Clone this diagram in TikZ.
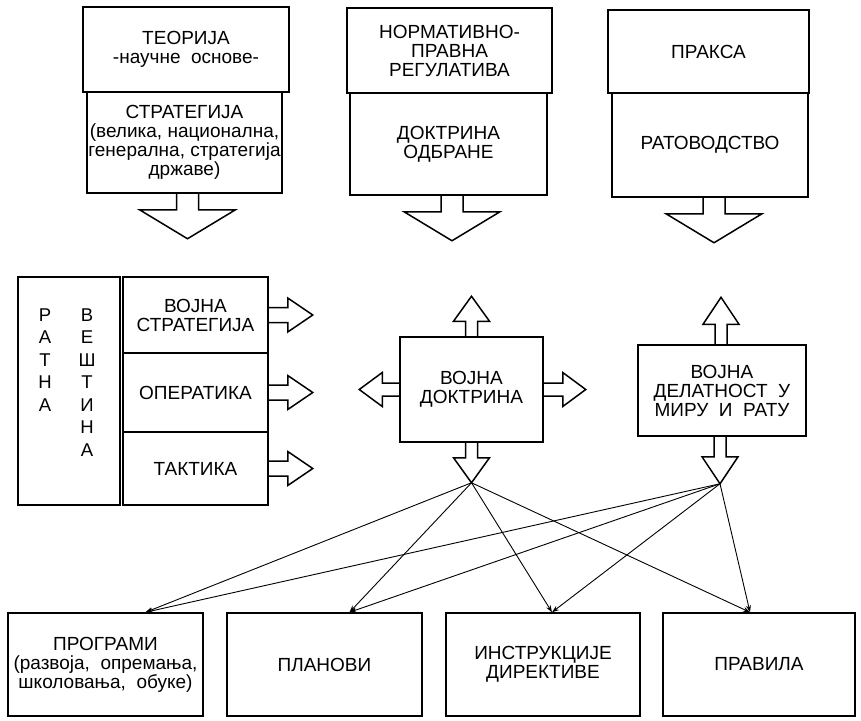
\documentclass[tikz,border=0pt]{standalone}
\usepackage{fontspec}
\setmainfont{Liberation Sans}
\usetikzlibrary{calc,arrows.meta}
\tikzset{
  every node/.style={inner sep=1pt, align=center, font=\fontsize{19}{19}\selectfont},
  box/.style={draw, line width=1.5pt},
  column/.style={font=\fontsize{18.5}{22.5}\selectfont},
  arrowline/.style={line width=1.5pt, line join=miter},
  link/.style={line width=0.9pt, -{Stealth[length=7pt,width=5pt]}},
  pics/blockarrow/.style args={#1/#2/#3/#4}{code={
    \draw[arrowline] (-#1,0) -- (-#1,#3) -- (-#2,#3) -- (0,#4) -- (#2,#3) -- (#1,#3) -- (#1,0);
    \coordinate (-tip) at (0,#4);
  }}
}

\begin{document}
\begin{tikzpicture}[x=1pt, y=-1pt]
  \useasboundingbox (0,0) rectangle (861,720);

  % top row
  \node[box, minimum width=206pt, minimum height=85pt]  (teorija)   at (186.0, 49.5) {ТЕОРИЈА\\-научне~~основе-};
  \node[box, minimum width=195pt, minimum height=101pt] (strategija) at (184.5,142.5) {СТРАТЕГИЈА\\(велика, национална,\\генерална, стратегија\\државе)};
  \node[box, minimum width=205pt, minimum height=85pt]  (normativa) at (449.5, 50.5) {НОРМАТИВНО-\\ПРАВНА\\РЕГУЛАТИВА};
  \node[box, minimum width=197pt, minimum height=102pt] (odbrana)   at (448.5,144.0) {ДОКТРИНА\\ОДБРАНЕ};
  \node[box, minimum width=201pt, minimum height=83pt]  (praksa)    at (708.5, 51.5) {ПРАКСА};
  \node[box, minimum width=196pt, minimum height=104pt] (ratovodstvo) at (710.0,145.0) {РАТОВОДСТВО};

  \pic at ($(strategija.south)+(3,0)$)  {blockarrow=11/48/16/45};
  \pic at ($(odbrana.south)+(3.5,0)$)   {blockarrow=11/48/16/45};
  \pic at ($(ratovodstvo.south)+(4,0)$) {blockarrow=11/48/16/45};

  % ratna vestina
  \node[box, minimum width=102pt, minimum height=228pt] (vestina) at (69,391) {};
  \node[column] (ratnatxt)   at (45,360.0) {Р\\А\\Т\\Н\\А};
  \node[column] (vestinatxt) at (87,382.5) {В\\Е\\Ш\\Т\\И\\Н\\А};
  \node[box, minimum width=145pt, minimum height=76pt] (vstrat) at (195.5,315.0) {ВОЈНА\\СТРАТЕГИЈА};
  \node[box, minimum width=145pt, minimum height=79pt] (operat) at (195.5,392.5) {ОПЕРАТИКА};
  \node[box, minimum width=145pt, minimum height=73pt] (taktika) at (195.5,468.5) {ТАКТИКА};

  \pic[rotate=90] at (vstrat.east)  {blockarrow=7.5/17/19/44};
  \pic[rotate=90] at (operat.east)  {blockarrow=7.5/17/19/44};
  \pic[rotate=90] at (taktika.east) {blockarrow=7.5/17/19/44};

  % doktrina and delatnost
  \node[box, minimum width=143pt, minimum height=105pt] (doktrina) at (471.5,389.5) {ВОЈНА\\ДОКТРИНА};
  \node[box, minimum width=168pt, minimum height=91pt]  (delatnost) at (722.0,390.5) {ВОЈНА\\ДЕЛАТНОСТ~~У\\МИРУ~~И~~РАТУ};

  \pic[rotate=180] at (doktrina.north) {blockarrow=6/18/15/40};
  \pic[rotate=-90] at (doktrina.west)  {blockarrow=6.5/17/17/40};
  \pic[rotate=90]  at (doktrina.east)  {blockarrow=6.5/17/19/42};
  \pic (dokdown)   at (doktrina.south) {blockarrow=6/18/15/40};
  \pic[rotate=180] at ($(delatnost.north)+(-1,0)$) {blockarrow=6/18/20/47};
  \pic (deldown)   at ($(delatnost.south)+(-2,0)$) {blockarrow=6/18/20/47};

  % bottom row
  \node[box, minimum width=195pt, minimum height=103pt] (programi)    at (105.5,664.5) {ПРОГРАМИ\\(развоја,~~опремања,\\школовања,~~обуке)};
  \node[box, minimum width=195pt, minimum height=103pt] (planovi)     at (324.5,664.5) {ПЛАНОВИ};
  \node[box, minimum width=194pt, minimum height=103pt] (instrukcije) at (543.0,664.5) {ИНСТРУКЦИЈЕ\\ДИРЕКТИВЕ};
  \node[box, minimum width=192pt, minimum height=103pt] (pravila)     at (759.0,664.5) {ПРАВИЛА};

  \coordinate (inprog)  at ($(programi.north)+(40,0)$);
  \coordinate (inplan)  at ($(planovi.north)+(25,0)$);
  \coordinate (ininstr) at ($(instrukcije.north)+(9,0)$);
  \coordinate (inprav)  at ($(pravila.north)+(-9,0)$);

  \foreach \t in {inprog,inplan,ininstr,inprav}{
    \draw[link] (dokdown-tip) -- (\t);
    \draw[link] (deldown-tip) -- (\t);
  }
\end{tikzpicture}
\end{document}
